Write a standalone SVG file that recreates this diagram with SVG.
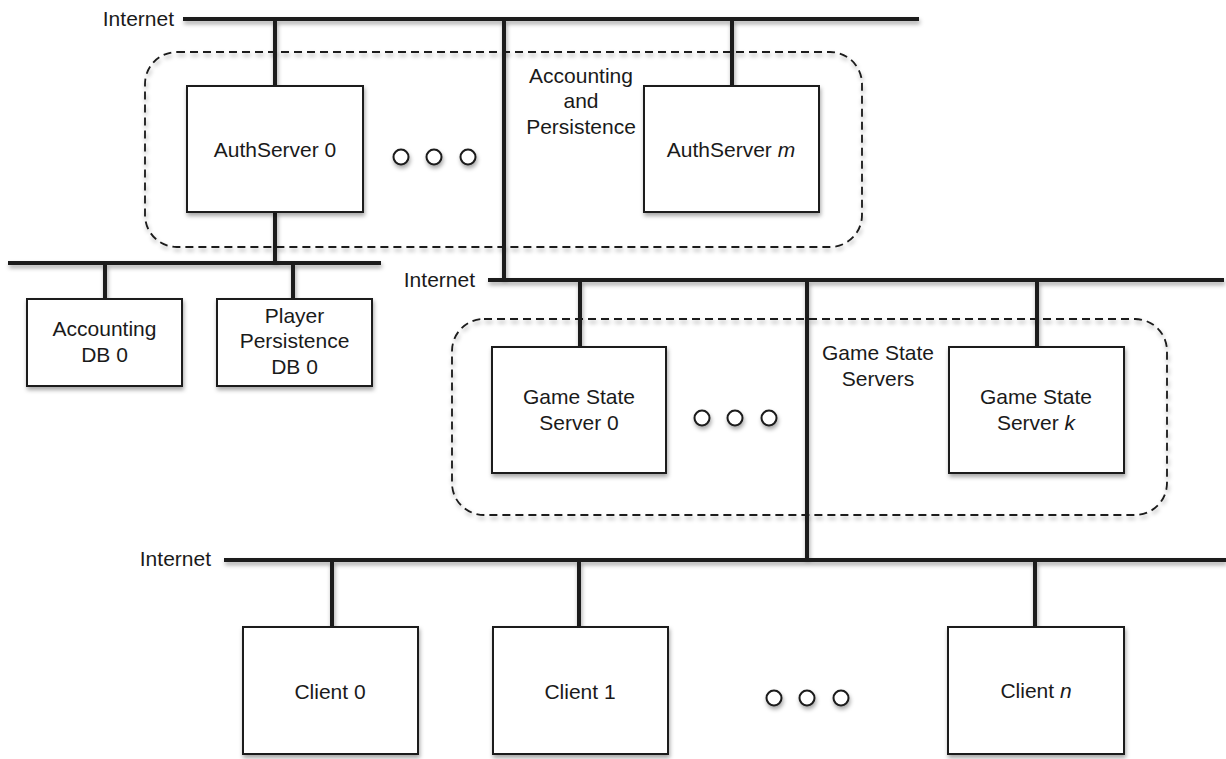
<svg xmlns="http://www.w3.org/2000/svg" width="1226" height="759" viewBox="0 0 1226 759">
  <defs>
    <filter id="sh" x="-10%" y="-10%" width="130%" height="140%">
      <feDropShadow dx="1" dy="3" stdDeviation="2" flood-color="#000" flood-opacity="0.35"/>
    </filter>
    <style>
      .bus{stroke:#1a1a1a;stroke-width:4;stroke-linecap:butt;fill:none}
      .box{fill:#fff;stroke:#1a1a1a;stroke-width:2}
      .grp{fill:none;stroke:#1a1a1a;stroke-width:1.8;stroke-dasharray:8 5}
      .dot{fill:#fff;stroke:#1a1a1a;stroke-width:2}
      text{font-family:"Liberation Sans",Arial,sans-serif;font-size:21px;fill:#1a1a1a}
      .c{text-anchor:middle}
      .e{text-anchor:end}
    </style>
  </defs>
  <rect width="1226" height="759" fill="#fff"/>

  <g id="groups" filter="url(#sh)">
    <rect id="group-accounting" class="grp" x="145" y="52" width="717" height="195" rx="32"/>
    <rect id="group-gamestate" class="grp" x="452" y="319" width="715" height="196" rx="32"/>
  </g>

  <g id="connectors" filter="url(#sh)">
    <line class="bus" x1="183" y1="19" x2="919" y2="19"/>
    <line class="bus" x1="8" y1="263" x2="381" y2="263"/>
    <line class="bus" x1="488" y1="280" x2="1224" y2="280"/>
    <line class="bus" x1="224" y1="560" x2="1226" y2="560"/>
    <line class="bus" x1="275" y1="17" x2="275" y2="86"/>
    <line class="bus" x1="275" y1="212" x2="275" y2="263"/>
    <line class="bus" x1="105" y1="263" x2="105" y2="299"/>
    <line class="bus" x1="293" y1="263" x2="293" y2="299"/>
    <line class="bus" x1="504" y1="17" x2="504" y2="282"/>
    <line class="bus" x1="732" y1="17" x2="732" y2="86"/>
    <line class="bus" x1="580" y1="280" x2="580" y2="347"/>
    <line class="bus" x1="807" y1="280" x2="807" y2="562"/>
    <line class="bus" x1="1037" y1="280" x2="1037" y2="347"/>
    <line class="bus" x1="332" y1="560" x2="332" y2="627"/>
    <line class="bus" x1="579" y1="560" x2="579" y2="627"/>
    <line class="bus" x1="1035" y1="560" x2="1035" y2="627"/>
  </g>

  <g id="labels">
    <text class="e" x="174" y="26">Internet</text>
    <text class="e" x="475" y="287">Internet</text>
    <text class="e" x="211" y="566">Internet</text>
    <text class="c" x="581" y="83">Accounting</text>
    <text class="c" x="581" y="108">and</text>
    <text class="c" x="581" y="134">Persistence</text>
    <text class="c" x="878" y="360">Game State</text>
    <text class="c" x="878" y="386">Servers</text>
  </g>

  <g id="authserver-0">
    <rect class="box" filter="url(#sh)" x="187" y="86" width="176" height="126"/>
    <text class="c" x="275" y="157">AuthServer 0</text>
  </g>
  <g id="authserver-m">
    <rect class="box" filter="url(#sh)" x="644" y="86" width="175" height="126"/>
    <text class="c" x="731" y="157">AuthServer <tspan font-style="italic">m</tspan></text>
  </g>
  <g id="accounting-db-0">
    <rect class="box" filter="url(#sh)" x="27" y="299" width="155" height="87"/>
    <text class="c" x="104.5" y="336">Accounting</text>
    <text class="c" x="104.5" y="362">DB 0</text>
  </g>
  <g id="player-persistence-db-0">
    <rect class="box" filter="url(#sh)" x="217" y="299" width="155" height="87"/>
    <text class="c" x="294.5" y="323">Player</text>
    <text class="c" x="294.5" y="348">Persistence</text>
    <text class="c" x="294.5" y="374">DB 0</text>
  </g>
  <g id="game-state-server-0">
    <rect class="box" filter="url(#sh)" x="492" y="347" width="174" height="126"/>
    <text class="c" x="579" y="404">Game State</text>
    <text class="c" x="579" y="430">Server 0</text>
  </g>
  <g id="game-state-server-k">
    <rect class="box" filter="url(#sh)" x="949" y="347" width="175" height="126"/>
    <text class="c" x="1036" y="404">Game State</text>
    <text class="c" x="1036" y="430">Server <tspan font-style="italic">k</tspan></text>
  </g>
  <g id="client-0">
    <rect class="box" filter="url(#sh)" x="243" y="627" width="175" height="127"/>
    <text class="c" x="330" y="699">Client 0</text>
  </g>
  <g id="client-1">
    <rect class="box" filter="url(#sh)" x="493" y="627" width="175" height="127"/>
    <text class="c" x="580" y="699">Client 1</text>
  </g>
  <g id="client-n">
    <rect class="box" filter="url(#sh)" x="948" y="627" width="176" height="127"/>
    <text class="c" x="1036" y="698">Client <tspan font-style="italic">n</tspan></text>
  </g>

  <g id="ellipses" filter="url(#sh)">
    <circle class="dot" cx="401" cy="157" r="7.5"/>
    <circle class="dot" cx="434" cy="157" r="7.5"/>
    <circle class="dot" cx="468" cy="157" r="7.5"/>
    <circle class="dot" cx="702" cy="418" r="7.5"/>
    <circle class="dot" cx="735" cy="418" r="7.5"/>
    <circle class="dot" cx="769" cy="418" r="7.5"/>
    <circle class="dot" cx="774" cy="698" r="7.5"/>
    <circle class="dot" cx="807" cy="698" r="7.5"/>
    <circle class="dot" cx="841" cy="698" r="7.5"/>
  </g>
</svg>
